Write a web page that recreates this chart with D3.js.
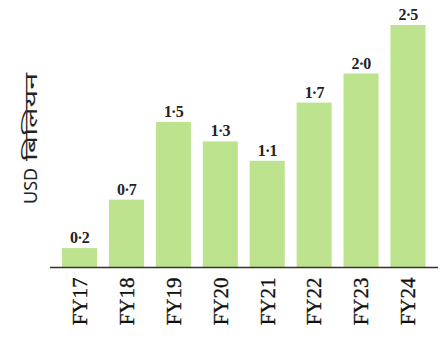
<!DOCTYPE html>
<html>
<head>
<meta charset="utf-8">
<script src="https://cdn.jsdelivr.net/npm/d3@7"></script>
<style>
  html, body { margin: 0; padding: 0; background: #ffffff; }
  svg { display: block; }
</style>
</head>
<body>
<script>
// Fiscal years and values in USD billion
const years = ["FY17", "FY18", "FY19", "FY20", "FY21", "FY22", "FY23", "FY24"];
const values = [0.2, 0.7, 1.5, 1.3, 1.1, 1.7, 2.0, 2.5];
const valueLabels = ["0·2", "0·7", "1·5", "1·3", "1·1", "1·7", "2·0", "2·5"];
const unitLatin = "USD";
const unitHindi = "बिलियन";

const W = 443, H = 342;
const baseY = 267.5;

const svg = d3.select("body").append("svg")
  .attr("width", W).attr("height", H);

const x = d3.scaleBand()
  .domain(years)
  .range([62, 425.5])
  .paddingInner(0.253)
  .paddingOuter(0);

const y = d3.scaleLinear()
  .domain([0, 2.5])
  .range([baseY, 25]);

// bars
svg.append("g").selectAll("rect")
  .data(values)
  .join("rect")
  .attr("x", (d, i) => x(years[i]))
  .attr("y", d => y(d))
  .attr("width", x.bandwidth())
  .attr("height", d => baseY - y(d))
  .attr("fill", "#bde38e");

// value labels
svg.append("g").selectAll("text")
  .data(values)
  .join("text")
  .attr("x", (d, i) => x(years[i]) + x.bandwidth() / 2)
  .attr("y", d => y(d) - 5)
  .attr("text-anchor", "middle")
  .attr("font-family", "'Liberation Serif', serif")
  .attr("font-weight", "bold")
  .attr("font-size", 16)
  .attr("letter-spacing", -0.8)
  .attr("fill", "#222")
  .text((d, i) => valueLabels[i]);

// x axis baseline with rotated year labels
const xAxis = svg.append("g")
  .attr("transform", `translate(0,${baseY})`)
  .call(d3.axisBottom(x).tickSize(0).tickPadding(0));
xAxis.select(".domain")
  .attr("d", `M50,0H438`)
  .attr("stroke", "#333")
  .attr("stroke-width", 1.6);
xAxis.selectAll(".tick text")
  .attr("font-family", "'Liberation Serif', serif")
  .attr("font-size", 21)
  .attr("fill", "#111")
  .attr("stroke", "#111")
  .attr("stroke-width", 0.35)
  .attr("transform", "rotate(-90)")
  .attr("text-anchor", "end")
  .attr("dy", "0.35em")
  .attr("x", -10)
  .attr("y", 0);

// y axis title: Latin unit, then the Hindi word
const title = svg.append("g").attr("transform", "translate(37,0) rotate(-90)");
title.append("text")
  .attr("x", -204)
  .attr("y", 0)
  .attr("font-family", "'Noto Sans', 'DejaVu Sans', sans-serif")
  .attr("font-size", 18)
  .attr("fill", "#222")
  .text(unitLatin);
title.append("text")
  .attr("x", -161)
  .attr("y", 0)
  .attr("textLength", 88)
  .attr("lengthAdjust", "spacingAndGlyphs")
  .attr("font-family", "'Noto Sans', 'DejaVu Sans', sans-serif")
  .attr("font-size", 18)
  .attr("fill", "#222")
  .text(unitHindi);
</script>
</body>
</html>
